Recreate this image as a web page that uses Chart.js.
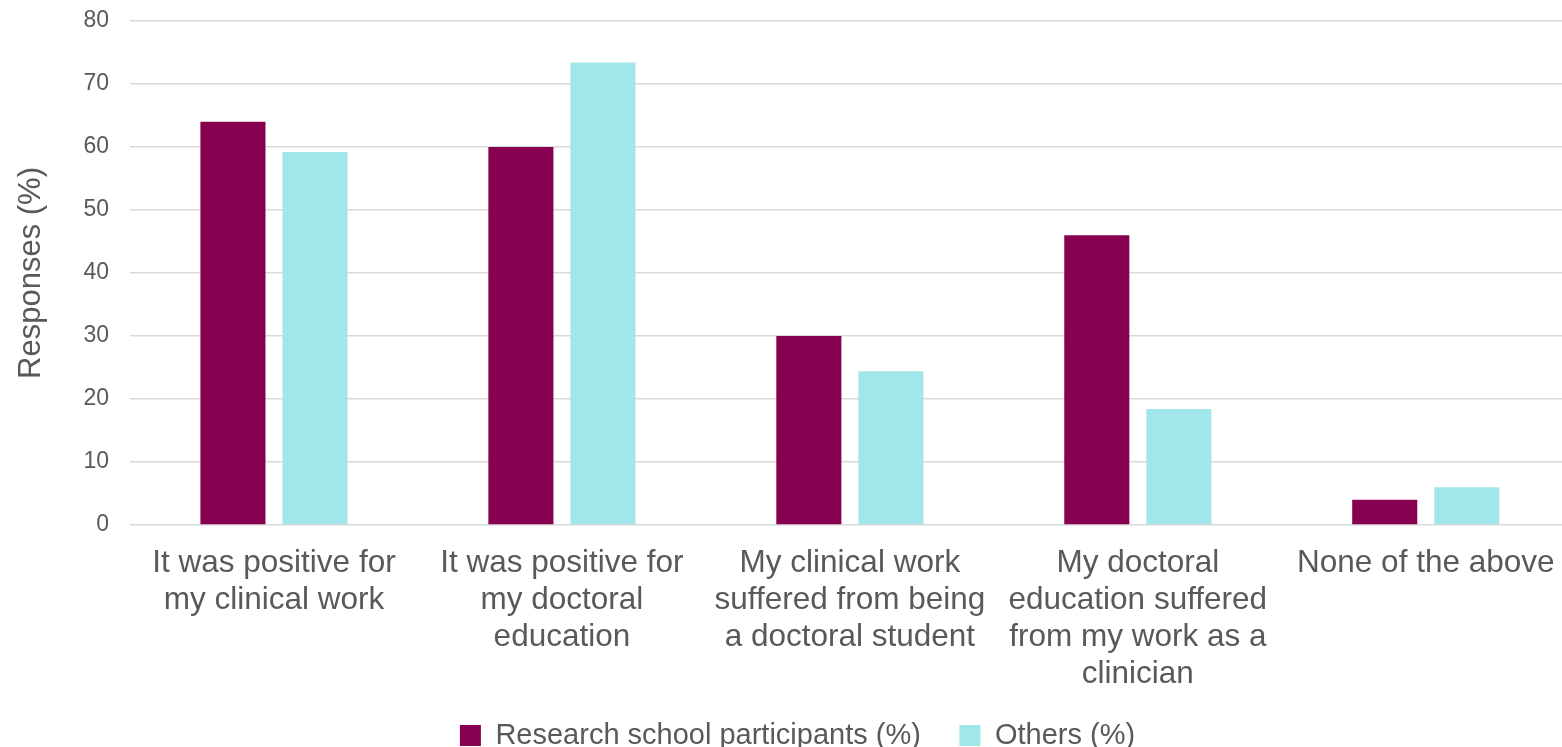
<!DOCTYPE html>
<html>
<head>
<meta charset="utf-8">
<script src="https://cdn.jsdelivr.net/npm/chart.js@4/dist/chart.umd.min.js"></script>
<style>
  html, body { margin: 0; padding: 0; background: #ffffff; overflow: hidden; }
  #wrap { width: 1562px; height: 747px; overflow: hidden; position: relative; }
  canvas { display: block; }
</style>
</head>
<body>
<div id="wrap"><canvas id="c" width="1574" height="747"></canvas></div>
<script>
const categories = [
  ["It was positive for", "my clinical work"],
  ["It was positive for", "my doctoral", "education"],
  ["My clinical work", "suffered from being", "a doctoral student"],
  ["My doctoral", "education suffered", "from my work as a", "clinician"],
  ["None of the above"]
];
const seriesNames = ["Research school participants (%)", "Others (%)"];
const researchValues = [64, 60, 30, 46, 4];
const othersValues = [59.2, 73.4, 24.4, 18.4, 6];
const yAxisTitle = "Responses (%)";
const yMin = 0, yMax = 80, yStep = 10;

const FONT = "'Liberation Sans', Arial, sans-serif";
const TEXT = "#595959";

const legendShift = {
  id: 'legendShift',
  afterLayout(chart) {
    const l = chart.legend;
    if (!l) return;
    l.left += 6; l.right += 6;
    l.top -= 8.5;
  }
};

new Chart(document.getElementById('c'), {
  type: 'bar',
  data: {
    labels: categories,
    datasets: [
      { label: seriesNames[0], data: researchValues, backgroundColor: '#880050', borderWidth: 0 },
      { label: seriesNames[1], data: othersValues, backgroundColor: '#A1E6E9', borderWidth: 0 }
    ]
  },
  plugins: [legendShift],
  options: {
    responsive: false,
    animation: false,
    devicePixelRatio: 1,
    layout: { padding: { left: 9, top: 21, right: 0, bottom: 0 } },
    datasets: { bar: { categoryPercentage: 0.57, barPercentage: 0.793 } },
    plugins: {
      tooltip: { enabled: false },
      legend: {
        position: 'bottom',
        maxHeight: 56,
        labels: {
          font: { family: FONT, size: 29 },
          color: TEXT,
          boxWidth: 21,
          boxHeight: 21,
          padding: 38.5
        }
      }
    },
    scales: {
      x: {
        grid: { display: false, drawTicks: false },
        border: { display: false },
        ticks: {
          font: { family: FONT, size: 31.5, lineHeight: 1.175 },
          color: TEXT,
          padding: 19.5,
          autoSkip: false,
          maxRotation: 0,
          minRotation: 0
        },
        afterFit: (s) => { s.height = 166; }
      },
      y: {
        min: yMin, max: yMax,
        grid: { color: '#d9d9d9', lineWidth: 1.5, drawTicks: false },
        border: { display: false },
        ticks: {
          stepSize: yStep,
          font: { family: FONT, size: 23, lineHeight: 0 },
          color: TEXT,
          padding: 21
        },
        title: {
          display: true,
          text: yAxisTitle,
          font: { family: FONT, size: 31 },
          color: TEXT,
          padding: { top: 4, bottom: 4 }
        },
        afterFit: (s) => { s.width = 121; }
      }
    }
  }
});
</script>
</body>
</html>
